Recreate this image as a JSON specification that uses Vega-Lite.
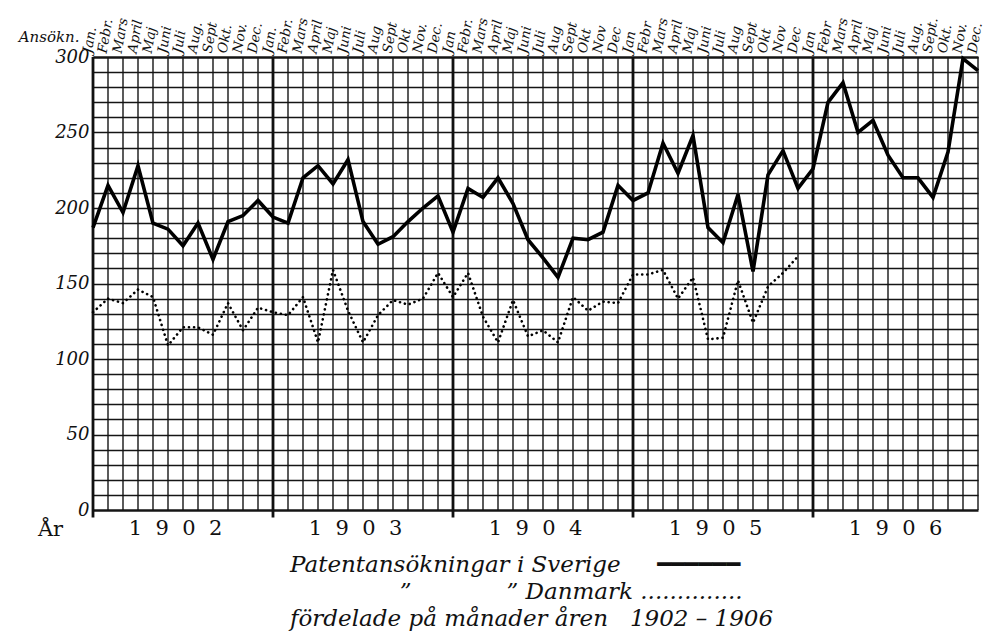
{
  "$schema": "https://vega.github.io/schema/vega-lite/v6.json",
  "autosize": {"type": "none"},
  "padding": {"left": 93, "top": 57, "right": 7, "bottom": 121},
  "width": 885,
  "height": 453,
  "background": "white",
  "config": {
    "view": {"stroke": null},
    "axisY": {
      "ticks": false,
      "domain": false,
      "grid": true,
      "gridColor": "#151515",
      "gridOpacity": 1,
      "labelFont": "DejaVu Serif",
      "labelFontStyle": "italic",
      "labelFontSize": 18,
      "labelColor": "#111",
      "labelPadding": 4,
      "labelBaseline": "middle",
      "titleFont": "DejaVu Serif",
      "titleFontStyle": "italic",
      "titleFontWeight": "normal",
      "titleFontSize": 15,
      "titleColor": "#111",
      "titleAngle": 0,
      "titleAlign": "right",
      "titleBaseline": "middle",
      "titleX": -14,
      "titleY": -21
    }
  },
  "title": {
    "text": [
      "Patentansökningar i Sverige\u00a0\u00a0\u00a0\u00a0\u00a0━━━━━━",
      "\u200b\u00a0\u00a0\u00a0\u00a0\u00a0\u00a0\u00a0\u00a0\u00a0\u00a0\u00a0\u00a0\u00a0\u00a0\u00a0”\u00a0\u00a0\u00a0\u00a0\u00a0\u00a0\u00a0\u00a0\u00a0\u00a0\u00a0\u00a0\u00a0” Danmark\u00a0..............",
      "fördelade på månader åren\u00a0\u00a0 1902 – 1906"
    ],
    "orient": "bottom",
    "frame": "group",
    "anchor": "start",
    "align": "left",
    "dx": 197,
    "offset": 15,
    "font": "DejaVu Serif",
    "fontStyle": "italic",
    "fontWeight": "normal",
    "fontSize": 23,
    "lineHeight": 27,
    "color": "#111"
  },
  "datasets": {
    "months": [
      {"n": 1, "year": 1902, "month": 1, "label": "Jan.", "sverige": 187, "danmark": 131},
      {"n": 2, "year": 1902, "month": 2, "label": "Febr.", "sverige": 215, "danmark": 140},
      {"n": 3, "year": 1902, "month": 3, "label": "Mars", "sverige": 197, "danmark": 137},
      {"n": 4, "year": 1902, "month": 4, "label": "April", "sverige": 228, "danmark": 146},
      {"n": 5, "year": 1902, "month": 5, "label": "Maj", "sverige": 190, "danmark": 141},
      {"n": 6, "year": 1902, "month": 6, "label": "Juni", "sverige": 186, "danmark": 109},
      {"n": 7, "year": 1902, "month": 7, "label": "Juli", "sverige": 175, "danmark": 121},
      {"n": 8, "year": 1902, "month": 8, "label": "Aug.", "sverige": 190, "danmark": 121},
      {"n": 9, "year": 1902, "month": 9, "label": "Sept", "sverige": 166, "danmark": 116},
      {"n": 10, "year": 1902, "month": 10, "label": "Okt.", "sverige": 191, "danmark": 137},
      {"n": 11, "year": 1902, "month": 11, "label": "Nov.", "sverige": 195, "danmark": 119},
      {"n": 12, "year": 1902, "month": 12, "label": "Dec.", "sverige": 205, "danmark": 134},
      {"n": 13, "year": 1903, "month": 1, "label": "Jan.", "sverige": 194, "danmark": 131},
      {"n": 14, "year": 1903, "month": 2, "label": "Febr.", "sverige": 190, "danmark": 129},
      {"n": 15, "year": 1903, "month": 3, "label": "Mars", "sverige": 220, "danmark": 141},
      {"n": 16, "year": 1903, "month": 4, "label": "April", "sverige": 228, "danmark": 111},
      {"n": 17, "year": 1903, "month": 5, "label": "Maj", "sverige": 216, "danmark": 159},
      {"n": 18, "year": 1903, "month": 6, "label": "Juni", "sverige": 232, "danmark": 132},
      {"n": 19, "year": 1903, "month": 7, "label": "Juli", "sverige": 191, "danmark": 111},
      {"n": 20, "year": 1903, "month": 8, "label": "Aug", "sverige": 176, "danmark": 129},
      {"n": 21, "year": 1903, "month": 9, "label": "Sept", "sverige": 181, "danmark": 139},
      {"n": 22, "year": 1903, "month": 10, "label": "Okt", "sverige": 191, "danmark": 136},
      {"n": 23, "year": 1903, "month": 11, "label": "Nov.", "sverige": 200, "danmark": 140},
      {"n": 24, "year": 1903, "month": 12, "label": "Dec.", "sverige": 208, "danmark": 157},
      {"n": 25, "year": 1904, "month": 1, "label": "Jan", "sverige": 184, "danmark": 141},
      {"n": 26, "year": 1904, "month": 2, "label": "Febr.", "sverige": 213, "danmark": 157},
      {"n": 27, "year": 1904, "month": 3, "label": "Mars", "sverige": 207, "danmark": 128},
      {"n": 28, "year": 1904, "month": 4, "label": "April", "sverige": 220, "danmark": 111},
      {"n": 29, "year": 1904, "month": 5, "label": "Maj", "sverige": 203, "danmark": 139},
      {"n": 30, "year": 1904, "month": 6, "label": "Juni", "sverige": 179, "danmark": 115},
      {"n": 31, "year": 1904, "month": 7, "label": "Juli", "sverige": 167, "danmark": 119},
      {"n": 32, "year": 1904, "month": 8, "label": "Aug", "sverige": 154, "danmark": 111},
      {"n": 33, "year": 1904, "month": 9, "label": "Sept", "sverige": 180, "danmark": 141},
      {"n": 34, "year": 1904, "month": 10, "label": "Okt", "sverige": 179, "danmark": 132},
      {"n": 35, "year": 1904, "month": 11, "label": "Nov", "sverige": 184, "danmark": 138},
      {"n": 36, "year": 1904, "month": 12, "label": "Dec", "sverige": 215, "danmark": 137},
      {"n": 37, "year": 1905, "month": 1, "label": "Jan", "sverige": 205, "danmark": 156},
      {"n": 38, "year": 1905, "month": 2, "label": "Febr", "sverige": 210, "danmark": 156},
      {"n": 39, "year": 1905, "month": 3, "label": "Mars", "sverige": 243, "danmark": 159},
      {"n": 40, "year": 1905, "month": 4, "label": "April", "sverige": 223, "danmark": 140},
      {"n": 41, "year": 1905, "month": 5, "label": "Maj", "sverige": 248, "danmark": 154},
      {"n": 42, "year": 1905, "month": 6, "label": "Juni", "sverige": 187, "danmark": 113},
      {"n": 43, "year": 1905, "month": 7, "label": "Juli", "sverige": 177, "danmark": 114},
      {"n": 44, "year": 1905, "month": 8, "label": "Aug", "sverige": 209, "danmark": 152},
      {"n": 45, "year": 1905, "month": 9, "label": "Sept", "sverige": 158, "danmark": 124},
      {"n": 46, "year": 1905, "month": 10, "label": "Okt", "sverige": 222, "danmark": 148},
      {"n": 47, "year": 1905, "month": 11, "label": "Nov", "sverige": 238, "danmark": 157},
      {"n": 48, "year": 1905, "month": 12, "label": "Dec", "sverige": 213, "danmark": 168},
      {"n": 49, "year": 1906, "month": 1, "label": "Jan", "sverige": 226, "danmark": null},
      {"n": 50, "year": 1906, "month": 2, "label": "Febr", "sverige": 270, "danmark": null},
      {"n": 51, "year": 1906, "month": 3, "label": "Mars", "sverige": 283, "danmark": null},
      {"n": 52, "year": 1906, "month": 4, "label": "April", "sverige": 250, "danmark": null},
      {"n": 53, "year": 1906, "month": 5, "label": "Maj", "sverige": 258, "danmark": null},
      {"n": 54, "year": 1906, "month": 6, "label": "Juni", "sverige": 235, "danmark": null},
      {"n": 55, "year": 1906, "month": 7, "label": "Juli", "sverige": 220, "danmark": null},
      {"n": 56, "year": 1906, "month": 8, "label": "Aug.", "sverige": 220, "danmark": null},
      {"n": 57, "year": 1906, "month": 9, "label": "Sept.", "sverige": 207, "danmark": null},
      {"n": 58, "year": 1906, "month": 10, "label": "Okt.", "sverige": 237, "danmark": null},
      {"n": 59, "year": 1906, "month": 11, "label": "Nov.", "sverige": 299, "danmark": null},
      {"n": 60, "year": 1906, "month": 12, "label": "Dec.", "sverige": 291, "danmark": null}
    ],
    "years": [
      {"n": 6.5, "label": "1\u00a0\u00a09\u00a0\u00a00\u00a0\u00a02"},
      {"n": 18.5, "label": "1\u00a0\u00a09\u00a0\u00a00\u00a0\u00a03"},
      {"n": 30.5, "label": "1\u00a0\u00a09\u00a0\u00a00\u00a0\u00a04"},
      {"n": 42.5, "label": "1\u00a0\u00a09\u00a0\u00a00\u00a0\u00a05"},
      {"n": 54.5, "label": "1\u00a0\u00a09\u00a0\u00a00\u00a0\u00a06"}
    ]
  },
  "data": {"name": "months"},
  "encoding": {
    "x": {
      "field": "n",
      "type": "quantitative",
      "scale": {"domain": [1, 60], "nice": false, "zero": false},
      "axis": {
        "labels": false,
        "ticks": false,
        "domain": false,
        "grid": false,
        "title": "År",
        "titleFont": "DejaVu Serif",
        "titleFontSize": 21,
        "titleFontWeight": "normal",
        "titleColor": "#111",
        "titleAngle": 0,
        "titleAlign": "center",
        "titleBaseline": "middle",
        "titleX": -43,
        "titleY": 19
      }
    }
  },
  "layer": [
    {
      "mark": {"type": "rule", "color": "#151515", "strokeWidth": 1.4},
      "encoding": {
        "y": {
          "datum": 0,
          "type": "quantitative",
          "title": "Ansökn.",
          "scale": {"domain": [0, 300], "nice": false, "zero": true},
          "axis": {
            "values": [0, 10, 20, 30, 40, 50, 60, 70, 80, 90, 100, 110, 120, 130, 140, 150, 160, 170, 180, 190, 200, 210, 220, 230, 240, 250, 260, 270, 280, 290, 300],
            "labelExpr": "datum.value % 50 === 0 ? datum.label : ''",
            "gridWidth": {"condition": {"test": "datum.value === 0 || datum.value === 300", "value": 2.4}, "value": 1.4}
          }
        },
        "y2": {"datum": 300}
      }
    },
    {
      "transform": [{"filter": "datum.month === 1"}],
      "mark": {"type": "rule", "color": "#111", "strokeWidth": 2.8},
      "encoding": {
        "y": {
          "datum": -5,
          "type": "quantitative",
          "title": "Ansökn.",
          "scale": {"domain": [0, 300], "nice": false, "zero": true},
          "axis": {
            "values": [0, 10, 20, 30, 40, 50, 60, 70, 80, 90, 100, 110, 120, 130, 140, 150, 160, 170, 180, 190, 200, 210, 220, 230, 240, 250, 260, 270, 280, 290, 300],
            "labelExpr": "datum.value % 50 === 0 ? datum.label : ''",
            "gridWidth": {"condition": {"test": "datum.value === 0 || datum.value === 300", "value": 2.4}, "value": 1.4}
          }
        },
        "y2": {"datum": 300}
      }
    },
    {
      "mark": {"type": "line", "color": "#000", "strokeWidth": 3.6, "strokeJoin": "miter"},
      "encoding": {
        "y": {
          "field": "sverige",
          "type": "quantitative",
          "title": "Ansökn.",
          "scale": {"domain": [0, 300], "nice": false, "zero": true},
          "axis": {
            "values": [0, 10, 20, 30, 40, 50, 60, 70, 80, 90, 100, 110, 120, 130, 140, 150, 160, 170, 180, 190, 200, 210, 220, 230, 240, 250, 260, 270, 280, 290, 300],
            "labelExpr": "datum.value % 50 === 0 ? datum.label : ''",
            "gridWidth": {"condition": {"test": "datum.value === 0 || datum.value === 300", "value": 2.4}, "value": 1.4}
          }
        }
      }
    },
    {
      "transform": [{"filter": "datum.danmark != null"}],
      "mark": {"type": "line", "color": "#000", "strokeWidth": 2.6, "strokeDash": [0.1, 5], "strokeCap": "round"},
      "encoding": {
        "y": {
          "field": "danmark",
          "type": "quantitative",
          "title": "Ansökn.",
          "scale": {"domain": [0, 300], "nice": false, "zero": true},
          "axis": {
            "values": [0, 10, 20, 30, 40, 50, 60, 70, 80, 90, 100, 110, 120, 130, 140, 150, 160, 170, 180, 190, 200, 210, 220, 230, 240, 250, 260, 270, 280, 290, 300],
            "labelExpr": "datum.value % 50 === 0 ? datum.label : ''",
            "gridWidth": {"condition": {"test": "datum.value === 0 || datum.value === 300", "value": 2.4}, "value": 1.4}
          }
        }
      }
    },
    {
      "mark": {"type": "text", "angle": 280, "align": "left", "baseline": "middle", "dx": 3, "dy": -6, "font": "DejaVu Serif", "fontStyle": "italic", "fontSize": 13.5, "color": "#111"},
      "encoding": {
        "y": {
          "datum": 300,
          "type": "quantitative",
          "title": "Ansökn.",
          "scale": {"domain": [0, 300], "nice": false, "zero": true},
          "axis": {
            "values": [0, 10, 20, 30, 40, 50, 60, 70, 80, 90, 100, 110, 120, 130, 140, 150, 160, 170, 180, 190, 200, 210, 220, 230, 240, 250, 260, 270, 280, 290, 300],
            "labelExpr": "datum.value % 50 === 0 ? datum.label : ''",
            "gridWidth": {"condition": {"test": "datum.value === 0 || datum.value === 300", "value": 2.4}, "value": 1.4}
          }
        },
        "text": {"field": "label"}
      }
    },
    {
      "data": {"name": "years"},
      "mark": {"type": "text", "align": "center", "baseline": "middle", "dy": 19, "font": "DejaVu Serif", "fontSize": 21, "color": "#111"},
      "encoding": {
        "y": {
          "datum": 0,
          "type": "quantitative",
          "title": "Ansökn.",
          "scale": {"domain": [0, 300], "nice": false, "zero": true},
          "axis": {
            "values": [0, 10, 20, 30, 40, 50, 60, 70, 80, 90, 100, 110, 120, 130, 140, 150, 160, 170, 180, 190, 200, 210, 220, 230, 240, 250, 260, 270, 280, 290, 300],
            "labelExpr": "datum.value % 50 === 0 ? datum.label : ''",
            "gridWidth": {"condition": {"test": "datum.value === 0 || datum.value === 300", "value": 2.4}, "value": 1.4}
          }
        },
        "text": {"field": "label"}
      }
    }
  ]
}
